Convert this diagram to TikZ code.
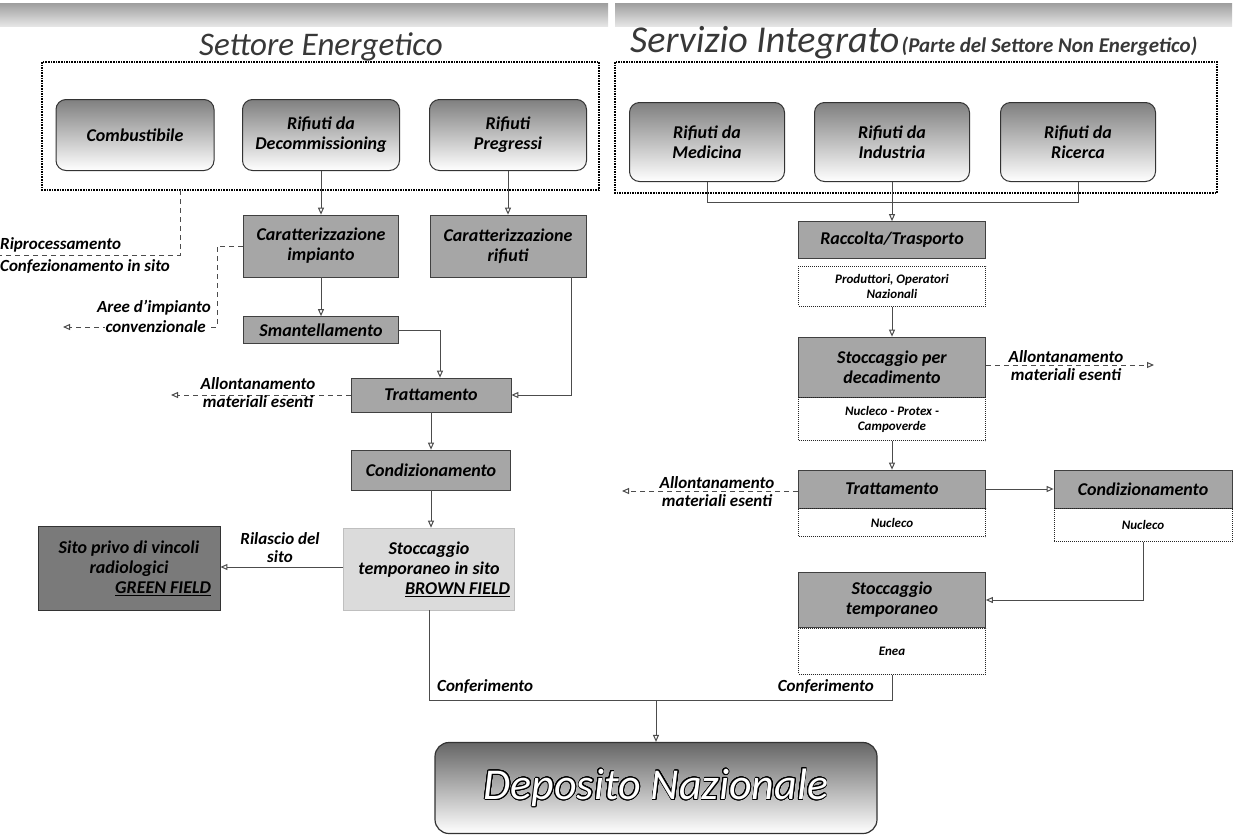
\documentclass[tikz,border=0pt]{standalone}
\usepackage{fontspec}
\setmainfont{Carlito}
\usepackage[copies]{contour}
\contourlength{0.8pt}
\contournumber{24}
\usetikzlibrary{arrows.meta,calc}
\begin{document}
\begin{tikzpicture}[x=1pt,y=-1pt,
  lbl/.style={font=\fontsize{18}{20}\selectfont\bfseries\itshape, align=center, inner sep=1pt},
  side/.style={font=\fontsize{17}{18}\selectfont\bfseries\itshape, align=center, inner sep=1pt},
  rbox/.style={draw=black!80, line width=1pt, rounded corners=10pt, top color=black!50, middle color=black!25, bottom color=white, lbl},
  gbox/.style={draw=black!75, fill=black!35, line width=0.7pt, lbl},
  subbox/.style={draw=black!85, densely dotted, line width=1pt, font=\fontsize{13}{15}\selectfont\bfseries\itshape, align=center, inner sep=1pt},
  frame/.style={draw=black, densely dotted, line width=1.6pt},
  conn/.style={draw=black!70, line width=1pt},
  arr/.style={conn, -{Triangle[open,length=7pt,width=6pt]}},
  darr/.style={arr, dashed, dash pattern=on 5pt off 4pt},
  dline/.style={conn, dashed, dash pattern=on 5pt off 4pt}
]
\useasboundingbox (0,0) rectangle (1234,836);

% header bands
\shade[top color=black!38, bottom color=black!10] (0,3) rectangle (608,26);
\shade[top color=black!38, bottom color=black!10] (615,3) rectangle (1232,26);
\node[anchor=base, font=\fontsize{33}{36}\selectfont\itshape, text=black!78, inner sep=0] (t1) at (321,55) {Settore Energetico};
\node[anchor=base west, text=black!78, inner sep=0] (t2) at (630,52) {{\fontsize{38}{40}\selectfont\itshape Servizio Integrato} {\fontsize{21}{22}\selectfont\bfseries\itshape (Parte del Settore Non Energetico)}};

% frames
\draw[frame] (42,62) rectangle (599,190);
\draw[frame] (615,62) rectangle (1217,193);

% top boxes left
\node[rbox, minimum width=158pt, minimum height=71pt] (comb) at (135,135) {Combustibile};
\node[rbox, minimum width=157pt, minimum height=71pt] (decom) at (321,135) {Rifiuti da\\Decommissioning};
\node[rbox, minimum width=157pt, minimum height=71pt] (pregr) at (508,135) {Rifiuti\\Pregressi};
% top boxes right
\node[rbox, minimum width=155pt, minimum height=79pt] (med) at (707,142) {Rifiuti da\\Medicina};
\node[rbox, minimum width=155pt, minimum height=79pt] (ind) at (892,142) {Rifiuti da\\Industria};
\node[rbox, minimum width=155pt, minimum height=79pt] (ric) at (1078,142) {Rifiuti da\\Ricerca};

% left flow
\node[gbox, minimum width=155pt, minimum height=62pt] (ci) at (321,246) {Caratterizzazione\\impianto};
\node[gbox, minimum width=156pt, minimum height=62pt] (cr) at (508,246) {Caratterizzazione\\rifiuti};
\node[gbox, minimum width=155pt, minimum height=27pt] (sm) at (321,330) {Smantellamento};
\node[gbox, minimum width=160pt, minimum height=34pt] (tr) at (431,395) {Trattamento};
\node[gbox, minimum width=159pt, minimum height=40pt] (co) at (431,470) {Condizionamento};
\node[draw=black!25, fill=black!14, line width=0.6pt, lbl, minimum width=171pt, minimum height=82pt] (bf) at (429,569) {Stoccaggio\\temporaneo in sito\\\makebox[162pt][r]{\underline{BROWN FIELD}}};
\node[draw=black!80, fill=black!52, line width=0.8pt, lbl, minimum width=182pt, minimum height=84pt] (gf) at (129,568) {Sito privo di vincoli\\radiologici\\\makebox[164pt][r]{\underline{GREEN FIELD}}};

% left connectors
\draw[arr] (decom.south) -- (ci.north);
\draw[arr] (pregr.south) -- (cr.north);
\draw[arr] (ci.south) -- (sm.north);
\draw[arr] (sm.east) -| ($(tr.north)+(9,0)$);
\draw[arr] ($(cr.south east)+(-15,0)$) |- (tr.east);
\draw[arr] (tr.south) -- (co.north);
\draw[arr] (co.south) -- (co.south |- bf.north);
\draw[arr] (bf.west |- 0,567) -- (gf.east |- 0,567);
\node[side] (ril) at (280,548) {Rilascio del\\sito};

% combustibile dashed
\coordinate (cb) at (180,190);
\coordinate (cbend) at (0,255);
\draw[dline] (cb) |- (cbend);
\node[side, anchor=west] (rip) at (-1,245) {Riprocessamento};
\node[side, anchor=west] (conf) at (-1,267) {Confezionamento in sito};

% aree d'impianto
\coordinate (aree) at (63,327);
\draw[darr] (ci.west) -- ++(-26,0) |- (aree);
\node[side, anchor=east] (aree1) at (212,308) {Aree d’impianto};
\node[side, anchor=east, fill=white, inner sep=1pt] (aree2) at (207,327) {convenzionale};

% allontanamento left
\coordinate (allL) at (171,395);
\draw[darr] (tr.west) -- (allL);
\node[side] (all1) at (258,393) {Allontanamento\\materiali esenti};

% right flow
\node[gbox, minimum width=187pt, minimum height=37pt] (rt) at (892,240) {Raccolta/Trasporto};
\node[subbox, minimum width=187pt, minimum height=40pt] (prod) at (892,286) {Produttori, Operatori\\Nazionali};
\node[gbox, minimum width=187pt, minimum height=60pt] (sd) at (892,367) {Stoccaggio per\\decadimento};
\node[subbox, minimum width=187pt, minimum height=43pt, anchor=north] (nuc1) at (sd.south) {Nucleco - Protex -\\Campoverde};
\node[gbox, minimum width=187pt, minimum height=38pt] (trR) at (892,489) {Trattamento};
\node[subbox, minimum width=187pt, minimum height=28pt, anchor=north] (nuc2) at (trR.south) {Nucleco};
\node[gbox, minimum width=178pt, minimum height=38pt] (condR) at (1143,489) {Condizionamento};
\node[subbox, minimum width=178pt, minimum height=33pt, anchor=north] (nuc3) at (condR.south) {Nucleco};
\node[gbox, minimum width=187pt, minimum height=55pt] (str) at (892,600) {Stoccaggio\\temporaneo};
\node[subbox, minimum width=187pt, minimum height=46pt, anchor=north] (enea) at (str.south) {Enea};

% right connectors
\draw[conn] (med.south) -- ++(0,20) -| (ric.south);
\draw[arr] (ind.south) -- (rt.north);
\draw[arr] (prod.south) -- (sd.north);
\draw[arr] (nuc1.south) -- (trR.north);
\draw[arr] (trR.east) -- (condR.west);
\draw[arr] (nuc3.south) |- (str.east);
\coordinate (allR) at (1154,365);
\draw[darr] (sd.east |- allR) -- (allR);
\node[side] (all2) at (1066,366) {Allontanamento\\materiali esenti};
\coordinate (allL2) at (622,491);
\draw[darr] (trR.west |- allL2) -- (allL2);
\node[side] (all3) at (717,492) {Allontanamento\\materiali esenti};

% deposito
\node[draw=black!80, line width=1.2pt, rounded corners=14pt, top color=black!60, middle color=black!30, bottom color=white, minimum width=442pt, minimum height=91pt, text=white, font=\fontsize{44}{50}\selectfont\itshape] (dep) at (656,788) {\contour{black}{Deposito Nazionale}};
\coordinate (cj) at (656,700);
\draw[conn] (bf.south) |- (cj) -| (enea.south);
\draw[arr] (cj) -- (dep.north);
\node[side, anchor=west] (conf1) at (436,687) {Conferimento};
\node[side, anchor=east] (conf2) at (875,687) {Conferimento};
\end{tikzpicture}
\end{document}
